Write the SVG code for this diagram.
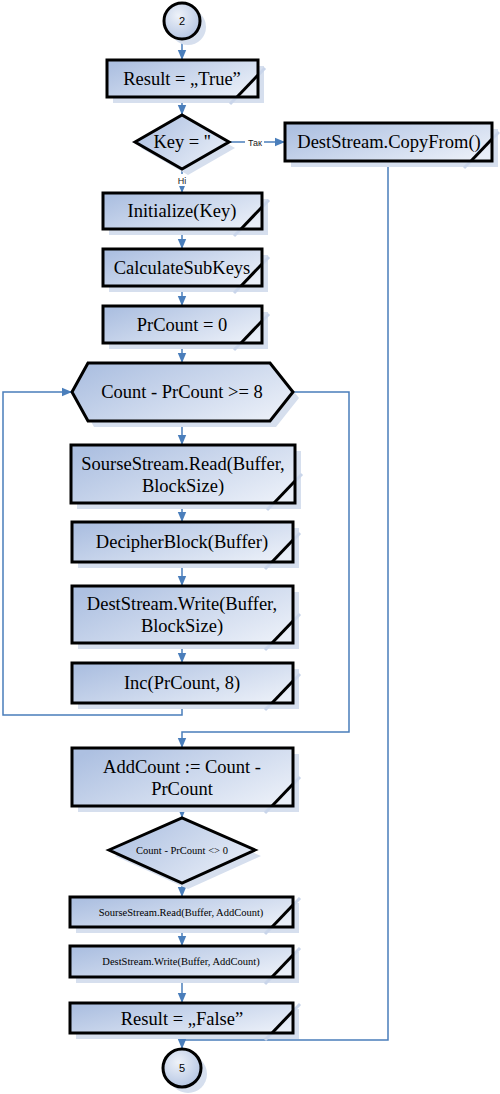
<svg xmlns="http://www.w3.org/2000/svg" width="500" height="1094" viewBox="0 0 500 1094">
<defs>
<linearGradient id="g" x1="0" y1="0.2" x2="1" y2="0.8">
<stop offset="0" stop-color="#adc0e1"/>
<stop offset="1" stop-color="#eaeff8"/>
</linearGradient>
<radialGradient id="gc" cx="0.4" cy="0.35" r="0.7">
<stop offset="0" stop-color="#eef2f9"/>
<stop offset="1" stop-color="#b3c4e2"/>
</radialGradient>
<marker id="ar" markerUnits="userSpaceOnUse" markerWidth="10" markerHeight="10" viewBox="0 0 10 10" refX="10" refY="5" orient="auto">
<path d="M0,0.8 L10,5 L0,9.2 Z" fill="#4a7ebb"/>
</marker>
<style>
.sh{fill:#d6dfee;stroke:none}
.shl{stroke:#c9d5ea;stroke-width:3;fill:none}
.b{fill:url(#g);stroke:#000;stroke-width:3}
.c{fill:url(#gc);stroke:#000;stroke-width:3}
.k{stroke:#000;stroke-width:3;fill:none}
.t{font-family:"Liberation Serif","Times New Roman",serif;font-size:18.5px;fill:#000;text-anchor:middle}
.ts{font-family:"Liberation Serif","Times New Roman",serif;font-size:10.5px;fill:#000;text-anchor:middle}
.tn{font-family:"Liberation Sans",Arial,sans-serif;font-size:11px;fill:#000;text-anchor:middle}
.tl{font-family:"Liberation Sans",Arial,sans-serif;font-size:9px;fill:#222;text-anchor:middle}
.ln{stroke:#4a7ebb;stroke-width:1.5;fill:none}
.la{stroke:#4a7ebb;stroke-width:1.5;fill:none;marker-end:url(#ar)}
</style>
</defs>
<rect width="500" height="1094" fill="#fff"/>

<g id="connectors">
<path class="la" d="M182,39 V60"/>
<path class="la" d="M182,97 V115"/>
<path class="la" d="M229,142 H285"/>
<path class="la" d="M182,169 V193"/>
<path class="la" d="M182,229 V249"/>
<path class="la" d="M182,286 V306"/>
<path class="la" d="M182,343 V363"/>
<path class="la" d="M182,421 V445"/>
<path class="la" d="M182,503 V522"/>
<path class="la" d="M182,562 V586"/>
<path class="la" d="M182,643 V663"/>
<path class="la" d="M182,703 V715 H3 V392 H72"/>
<path class="la" d="M293,392 H349 V732 H182 V748"/>
<path class="la" d="M182,806 V818"/>
<path class="la" d="M182,883 V897"/>
<path class="la" d="M182,927 V946"/>
<path class="la" d="M182,977 V1003"/>
<path class="la" d="M182,1033 V1049"/>
<path class="ln" d="M388,162 V1040 H182"/>
<rect x="245" y="136" width="19" height="12" fill="#fff"/>
<text class="tl" x="255" y="146">Так</text>
<rect x="174" y="174" width="16" height="12" fill="#fff"/>
<text class="tl" x="182" y="184">Ні</text>
</g>

<g id="c2">
<circle class="sh" cx="188" cy="27" r="18"/>
<circle class="c" cx="182" cy="21" r="18"/>
<text class="tn" x="182" y="25">2</text>
</g>

<g id="n1">
<rect class="sh" x="113" y="66" width="151" height="37"/>
<line class="shl" x1="230" y1="104" x2="265" y2="68"/>
<rect class="b" x="107" y="60" width="151" height="37"/>
<line class="k" x1="258" y1="75" x2="237" y2="97"/>
<text class="t" x="182" y="85">Result = „True”</text>
</g>

<g id="d1">
<polygon class="sh" points="141,148 188,121 235,148 188,175"/>
<polygon class="b" points="135,142 182,115 229,142 182,169"/>
<text class="t" x="182" y="148">Key = ''</text>
</g>

<g id="n2">
<rect class="sh" x="291" y="129" width="207" height="38"/>
<line class="shl" x1="464" y1="168" x2="499" y2="132"/>
<rect class="b" x="285" y="123" width="207" height="38"/>
<line class="k" x1="492" y1="139" x2="471" y2="161"/>
<text class="t" x="389" y="148">DestStream.CopyFrom()</text>
</g>

<g id="n3">
<rect class="sh" x="109" y="199" width="159" height="36"/>
<line class="shl" x1="234" y1="236" x2="269" y2="200"/>
<rect class="b" x="103" y="193" width="159" height="36"/>
<line class="k" x1="262" y1="207" x2="241" y2="229"/>
<text class="t" x="182" y="217">Initialize(Key)</text>
</g>

<g id="n4">
<rect class="sh" x="109" y="255" width="159" height="37"/>
<line class="shl" x1="234" y1="293" x2="269" y2="257"/>
<rect class="b" x="103" y="249" width="159" height="37"/>
<line class="k" x1="262" y1="264" x2="241" y2="286"/>
<text class="t" x="182" y="274">CalculateSubKeys</text>
</g>

<g id="n5">
<rect class="sh" x="109" y="312" width="159" height="37"/>
<line class="shl" x1="234" y1="350" x2="269" y2="314"/>
<rect class="b" x="103" y="306" width="159" height="37"/>
<line class="k" x1="262" y1="321" x2="241" y2="343"/>
<text class="t" x="182" y="331">PrCount = 0</text>
</g>

<g id="h1">
<polygon class="sh" points="78,398 94,369 276,369 299,398 276,427 94,427"/>
<polygon class="b" points="72,392 88,363 270,363 293,392 270,421 88,421"/>
<text class="t" x="182" y="398">Count - PrCount &gt;= 8</text>
</g>

<g id="n6">
<rect class="sh" x="77" y="451" width="224" height="58"/>
<line class="shl" x1="267" y1="510" x2="302" y2="474"/>
<rect class="b" x="71" y="445" width="224" height="58"/>
<line class="k" x1="295" y1="481" x2="274" y2="503"/>
<text class="t" x="183" y="470">SourseStream.Read(Buffer,</text>
<text class="t" x="183" y="492">BlockSize)</text>
</g>

<g id="n7">
<rect class="sh" x="78" y="528" width="221" height="40"/>
<line class="shl" x1="265" y1="569" x2="300" y2="533"/>
<rect class="b" x="72" y="522" width="221" height="40"/>
<line class="k" x1="293" y1="540" x2="272" y2="562"/>
<text class="t" x="182" y="548">DecipherBlock(Buffer)</text>
</g>

<g id="n8">
<rect class="sh" x="78" y="592" width="221" height="57"/>
<line class="shl" x1="265" y1="650" x2="300" y2="614"/>
<rect class="b" x="72" y="586" width="221" height="57"/>
<line class="k" x1="293" y1="621" x2="272" y2="643"/>
<text class="t" x="182" y="610">DestStream.Write(Buffer,</text>
<text class="t" x="182" y="632">BlockSize)</text>
</g>

<g id="n9">
<rect class="sh" x="78" y="669" width="221" height="40"/>
<line class="shl" x1="265" y1="710" x2="300" y2="674"/>
<rect class="b" x="72" y="663" width="221" height="40"/>
<line class="k" x1="293" y1="681" x2="272" y2="703"/>
<text class="t" x="182" y="689">Inc(PrCount, 8)</text>
</g>

<g id="n10">
<rect class="sh" x="78" y="754" width="221" height="58"/>
<line class="shl" x1="265" y1="813" x2="300" y2="777"/>
<rect class="b" x="72" y="748" width="221" height="58"/>
<line class="k" x1="293" y1="784" x2="272" y2="806"/>
<text class="t" x="182" y="773">AddCount := Count -</text>
<text class="t" x="182" y="795">PrCount</text>
</g>

<g id="d2">
<polygon class="sh" points="115,856 188,824 261,856 188,889"/>
<polygon class="b" points="109,850 182,818 255,850 182,883"/>
<text class="ts" x="182" y="854">Count - PrCount &lt;&gt; 0</text>
</g>

<g id="n11">
<rect class="sh" x="76" y="903" width="223" height="30"/>
<line class="shl" x1="265" y1="934" x2="300" y2="898"/>
<rect class="b" x="70" y="897" width="223" height="30"/>
<line class="k" x1="293" y1="905" x2="272" y2="927"/>
<text class="ts" x="181" y="916">SourseStream.Read(Buffer, AddCount)</text>
</g>

<g id="n12">
<rect class="sh" x="76" y="952" width="223" height="31"/>
<line class="shl" x1="265" y1="984" x2="300" y2="948"/>
<rect class="b" x="70" y="946" width="223" height="31"/>
<line class="k" x1="293" y1="955" x2="272" y2="977"/>
<text class="ts" x="181" y="965">DestStream.Write(Buffer, AddCount)</text>
</g>

<g id="n13">
<rect class="sh" x="76" y="1009" width="223" height="30"/>
<line class="shl" x1="265" y1="1040" x2="300" y2="1004"/>
<rect class="b" x="70" y="1003" width="223" height="30"/>
<line class="k" x1="293" y1="1011" x2="272" y2="1033"/>
<text class="t" x="182" y="1025">Result = „False”</text>
</g>

<g id="c5">
<circle class="sh" cx="188" cy="1074" r="19"/>
<circle class="c" cx="182" cy="1068" r="19"/>
<text class="tn" x="182" y="1072">5</text>
</g>
</svg>
